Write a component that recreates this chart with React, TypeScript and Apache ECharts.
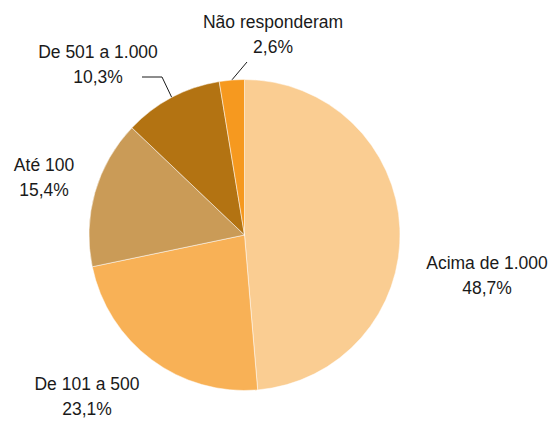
import React, { useEffect, useRef } from "react";
import * as echarts from "echarts";

const categories = ["Acima de 1.000", "De 101 a 500", "Até 100", "De 501 a 1.000", "Não responderam"];
const values = [48.7, 23.1, 15.4, 10.3, 2.6];
const colors = ["#FACD92", "#F8B156", "#CA9B57", "#B37312", "#F6991F"];
const showLine = [false, false, false, true, true];
const labelPos: [number, number][] = [
  [487, 275],
  [87, 396],
  [44, 177],
  [98, 64],
  [273, 34],
];
// label-line bend/end offsets relative to the label centre
const lineOffsets: ([number, number][] | null)[] = [
  null,
  null,
  null,
  [[64, 13], [44, 13]],
  [[-26, 28], [-26, 28]],
];

export default function App() {
  const ref = useRef<HTMLDivElement>(null);
  useEffect(() => {
    document.body.style.margin = "0";
    const chart = echarts.init(ref.current!, null, { renderer: "svg" });
    chart.setOption({
      animation: false,
      backgroundColor: "#ffffff",
      series: [
        {
          type: "pie",
          center: [244.5, 235],
          radius: 155.5,
          startAngle: 90,
          clockwise: true,
          avoidLabelOverlap: false,
          itemStyle: { borderColor: "#ffffff", borderWidth: 0.5 },
          label: {
            show: true,
            position: "outside",
            color: "#1a1a1a",
            fontFamily: "'Liberation Sans', Arial, sans-serif",
            fontSize: 17.5,
            lineHeight: 25,
            align: "center",
            formatter: (p: any) => `${p.name}\n${String(p.value).replace(".", ",")}%`,
          },
          labelLine: { show: true, lineStyle: { color: "#1a1a1a", width: 1 }, length: 10, length2: 10 },
          labelLayout: (p: any) => {
            const i = p.dataIndex;
            const pos = labelPos[i];
            const res: any = { x: pos[0], y: pos[1], align: "center", verticalAlign: "middle" };
            const off = lineOffsets[i];
            if (off && p.labelLinePoints) {
              const start = p.labelLinePoints[0];
              res.labelLinePoints = [
                [start[0], start[1]],
                [pos[0] + off[0][0], pos[1] + off[0][1]],
                [pos[0] + off[1][0], pos[1] + off[1][1]],
              ];
            }
            return res;
          },
          data: categories.map((name, i) => ({
            name,
            value: values[i],
            itemStyle: { color: colors[i] },
            labelLine: { show: showLine[i] },
          })),
        },
      ],
    });
    return () => chart.dispose();
  }, []);
  return <div ref={ref} style={{ width: 557, height: 421 }} />;
}
